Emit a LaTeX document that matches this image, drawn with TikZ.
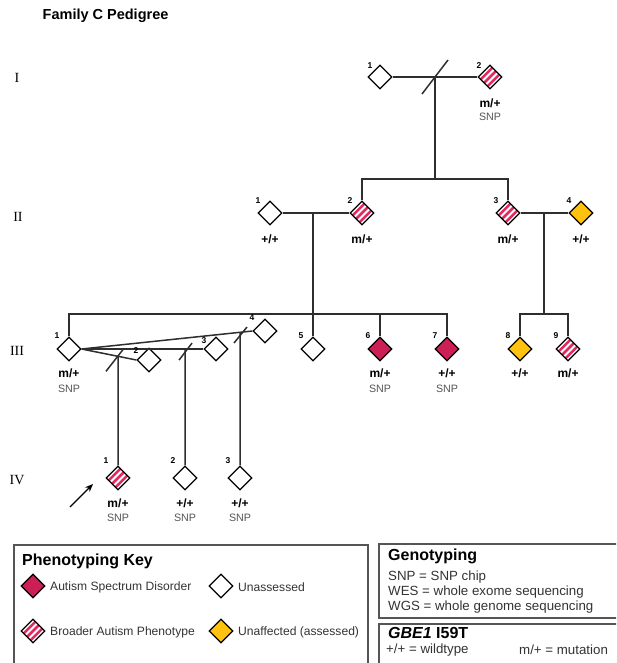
\documentclass[tikz,border=0pt]{standalone}
\usepackage{fontspec}
\setmainfont{Liberation Sans}
\newfontfamily\genfont{Liberation Serif}
\usetikzlibrary{shapes.geometric,calc,arrows.meta}
\definecolor{asd}{HTML}{CC1F55}
\definecolor{bapc}{HTML}{E3285F}
\definecolor{gold}{HTML}{FFC20E}
\definecolor{linec}{HTML}{2E2E2E}
\definecolor{boxc}{HTML}{555555}
\definecolor{txtc}{HTML}{333333}
\definecolor{snpc}{HTML}{555555}
\tikzset{
  ind/.style={diamond, aspect=1, draw=black, line width=1.2pt, minimum width=24pt, minimum height=24pt, inner sep=0pt, fill=white},
  asdind/.style={ind, fill=asd},
  unaffind/.style={ind, fill=gold},
  bapind/.style={ind, path picture={
     \foreach \o in {-3.43,0,3.43}
       \draw[bapc, line width=2.5pt] ($(path picture bounding box.center)+(\o,\o)+(-15,15)$) -- ($(path picture bounding box.center)+(\o,\o)+(15,-15)$);
  }},
  rel/.style={draw=linec, line width=1.5pt},
  num/.style={font=\bfseries\fontsize{8.5}{9}\selectfont, inner sep=0pt},
  geno/.style={font=\bfseries\fontsize{12}{13}\selectfont, inner sep=0pt},
  snp/.style={font=\fontsize{10.7}{12}\selectfont, text=snpc, inner sep=0pt},
  gen/.style={font=\genfont\fontsize{14}{15}\selectfont, inner sep=0pt},
  keybox/.style={draw=boxc, line width=1.4pt},
  keyhead/.style={font=\bfseries\fontsize{16}{18}\selectfont, anchor=west, inner sep=0pt},
  keytxt/.style={font=\fontsize{12.1}{14}\selectfont, text=txtc, anchor=west, inner sep=0pt},
  gtxt/.style={font=\fontsize{13.3}{15}\selectfont, text=txtc, anchor=west, inner sep=0pt},
}
\begin{document}
\begin{tikzpicture}[x=1pt,y=-1pt]
\useasboundingbox (0,0) rectangle (616,663);
\clip (0,0) rectangle (616,663);

% title
\node[font=\bfseries\fontsize{14.5}{16}\selectfont, anchor=west, inner sep=0pt] (title) at (42.5,16) {Family C Pedigree};

% generation labels
\node[gen] (gI) at (17,78) {I};
\node[gen] (gII) at (18,217) {II};
\node[gen] (gIII) at (17,351) {III};
\node[gen] (gIV) at (17,480) {IV};

% Generation I
\node[ind] (I1) at (380,77) {};
\node[bapind] (I2) at (490,77) {};
\coordinate (m1) at (435,77);
\coordinate (s2) at (435,179);
\draw[rel] (I1) -- (I2);
\draw[rel] (m1) -- (s2);
\draw[rel] ($(m1)+(-13,17)$) -- ($(m1)+(13,-17)$);

% Generation II
\node[ind] (II1) at (270,213) {};
\node[bapind] (II2) at (362,213) {};
\node[bapind] (II3) at (508,213) {};
\node[unaffind] (II4) at (581,213) {};
\draw[rel] (II2) |- (s2) -| (II3);
\draw[rel] (II1) -- (II2);
\draw[rel] (II3) -- (II4);
\coordinate (m2) at (313,213);
\coordinate (s3) at (313,314);
\coordinate (m3) at (544,213);
\coordinate (s4) at (544,314);
\coordinate (s3R) at (447,314);
\draw[rel] (m2) -- (s3);
\draw[rel] (m3) -- (s4);

% Generation III
\node[ind] (III1) at (69,349) {};
\node[ind] (III5) at (313,349) {};
\node[asdind] (III6) at (380,349) {};
\node[asdind] (III7) at (447,349) {};
\node[unaffind] (III8) at (520,349) {};
\node[bapind] (III9) at (568,349) {};
\node[ind] (P2) at (149,360) {};
\node[ind] (P3) at (216,349) {};
\node[ind] (P4) at (265,331) {};
\draw[rel] (III1) |- (s3R) -- (III7);
\draw[rel] (s3) -- (III5);
\draw[rel] (III6 |- s3) -- (III6);
\draw[rel] (III8) |- (s4) -| (III9);
\draw[rel] (III1.east) -- (P2.west);
\draw[rel] (III1.east) -- (P3.west);
\draw[rel] (III1.east) -- (P4.west);
\coordinate (u2) at (intersection of III1.east--P2.west and 118,300--118,400);
\coordinate (u3) at (intersection of III1.east--P3.west and 185,300--185,400);
\coordinate (u4) at (intersection of III1.east--P4.west and 240,300--240,400);
\draw[rel] ($(u2)+(-12,15)$) -- ($(u2)+(6,-8)$);
\draw[rel] ($(u3)+(-6,11)$) -- ($(u3)+(7,-6)$);
\draw[rel] ($(u4)+(-6,10.7)$) -- ($(u4)+(7,-5.3)$);

% Generation IV
\node[bapind] (IV1) at (118,478) {};
\node[ind] (IV2) at (185,478) {};
\node[ind] (IV3) at (240,478) {};
\draw[rel] (u2) -- (IV1);
\draw[rel] (u3) -- (IV2);
\draw[rel] (u4) -- (IV3);
\coordinate (arT) at (70,507);
\coordinate (arH) at (93,484);
\draw[draw=black, line width=1.3pt, -{Stealth[length=8pt,width=6.5pt]}] (arT) -- (arH);

% individual numbers
\node[num] (nI1) at (370,66) {1};
\node[num] (nI2) at (479,66) {2};
\node[num] (nII1) at (258,201) {1};
\node[num] (nII2) at (350,201) {2};
\node[num] (nII3) at (496,201) {3};
\node[num] (nII4) at (569,201) {4};
\node[num] (nIII1) at (57,336) {1};
\node[num] (nIII5) at (301,336) {5};
\node[num] (nIII6) at (368,336) {6};
\node[num] (nIII7) at (435,336) {7};
\node[num] (nIII8) at (508,336) {8};
\node[num] (nIII9) at (556,336) {9};
\node[num] (nP2) at (136,351) {2};
\node[num] (nP3) at (204,341) {3};
\node[num] (nP4) at (252,318) {4};
\node[num] (nIV1) at (106,461) {1};
\node[num] (nIV2) at (173,461) {2};
\node[num] (nIV3) at (228,461) {3};

% genotypes
\node[geno] (gtI2) at (490,103) {m/+};
\node[snp] (sI2) at (490,117) {SNP};
\node[geno] (gtII1) at (270,239) {+/+};
\node[geno] (gtII2) at (362,239) {m/+};
\node[geno] (gtII3) at (508,239) {m/+};
\node[geno] (gtII4) at (581,239) {+/+};
\node[geno] (gtIII1) at (69,373) {m/+};
\node[snp] (sIII1) at (69,389) {SNP};
\node[geno] (gtIII6) at (380,373) {m/+};
\node[snp] (sIII6) at (380,389) {SNP};
\node[geno] (gtIII7) at (447,373) {+/+};
\node[snp] (sIII7) at (447,389) {SNP};
\node[geno] (gtIII8) at (520,373) {+/+};
\node[geno] (gtIII9) at (568,373) {m/+};
\node[geno] (gtIV1) at (118,503) {m/+};
\node[snp] (sIV1) at (118,518) {SNP};
\node[geno] (gtIV2) at (185,503) {+/+};
\node[snp] (sIV2) at (185,518) {SNP};
\node[geno] (gtIV3) at (240,503) {+/+};
\node[snp] (sIV3) at (240,518) {SNP};

% Phenotyping key
\draw[keybox] (14,545) rectangle (368,672);
\node[keyhead] (kh) at (22,561) {Phenotyping Key};
\node[asdind] (kASD) at (33,586) {};
\node[keytxt] (tASD) at (50,587) {Autism Spectrum Disorder};
\node[ind] (kUN) at (221,586) {};
\node[keytxt] (tUN) at (238,587) {Unassessed};
\node[bapind] (kBAP) at (33,631) {};
\node[keytxt] (tBAP) at (50,632) {Broader Autism Phenotype};
\node[unaffind] (kUA) at (221,631) {};
\node[keytxt] (tUA) at (238,632) {Unaffected (assessed)};

% Genotyping key
\draw[keybox] (379,544) rectangle (625,618);
\node[keyhead] (gh) at (388,556) {Genotyping};
\node[gtxt] (g1) at (388,577) {SNP = SNP chip};
\node[gtxt] (g2) at (388,592) {WES = whole exome sequencing};
\node[gtxt] (g3) at (388,607) {WGS = whole genome sequencing};

% GBE1 key
\draw[keybox] (379,624) rectangle (625,672);
\node[font=\bfseries\fontsize{16}{18}\selectfont, anchor=west, inner sep=0pt] (bh) at (388,633) {\textit{GBE1} I59T};
\node[font=\fontsize{13.3}{15}\selectfont, text=txtc, anchor=west, inner sep=0pt] (b1) at (386,650) {+/+ = wildtype};
\node[font=\fontsize{13.3}{15}\selectfont, text=txtc, anchor=west, inner sep=0pt] (b2) at (519,650) {m/+ = mutation};
\end{tikzpicture}
\end{document}
